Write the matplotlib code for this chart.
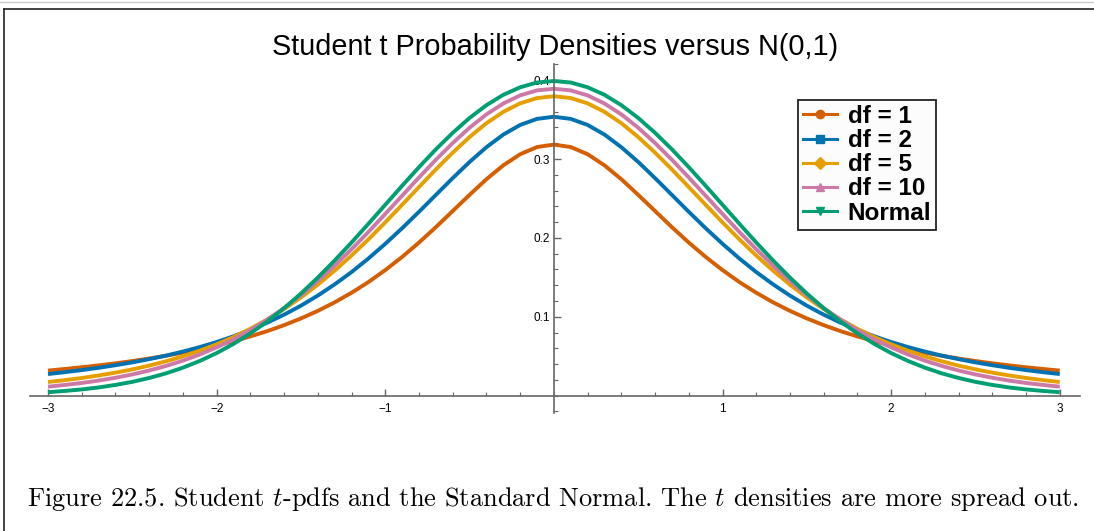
import numpy as np
import matplotlib
matplotlib.use("Agg")
import matplotlib.pyplot as plt
from matplotlib.ticker import MultipleLocator, FixedLocator
from matplotlib.lines import Line2D

# --- valeurs (moitie x >= 0, courbes symetriques) ---
x_half = [0.0, 0.1, 0.2, 0.3, 0.4, 0.5, 0.6, 0.7, 0.8, 0.9, 1.0,
          1.1, 1.2, 1.3, 1.4, 1.5, 1.6, 1.7, 1.8, 1.9, 2.0,
          2.1, 2.2, 2.3, 2.4, 2.5, 2.6, 2.7, 2.8, 2.9, 3.0]
df1 = [0.3183, 0.3152, 0.3061, 0.2920, 0.2744, 0.2546, 0.2341, 0.2136, 0.1941, 0.1759, 0.1592,
       0.1440, 0.1305, 0.1183, 0.1075, 0.0979, 0.0894, 0.0818, 0.0751, 0.0691, 0.0637,
       0.0588, 0.0545, 0.0506, 0.0471, 0.0439, 0.0410, 0.0384, 0.0360, 0.0338, 0.0318]
df2 = [0.3536, 0.3509, 0.3432, 0.3310, 0.3150, 0.2963, 0.2758, 0.2545, 0.2331, 0.2123, 0.1925,
       0.1739, 0.1567, 0.1411, 0.1269, 0.1141, 0.1027, 0.0925, 0.0834, 0.0753, 0.0680,
       0.0616, 0.0559, 0.0508, 0.0463, 0.0422, 0.0386, 0.0353, 0.0324, 0.0298, 0.0274]
df5 = [0.3796, 0.3773, 0.3706, 0.3598, 0.3454, 0.3279, 0.3081, 0.2868, 0.2645, 0.2420, 0.2197,
       0.1981, 0.1777, 0.1585, 0.1407, 0.1245, 0.1098, 0.0966, 0.0848, 0.0743, 0.0651,
       0.0570, 0.0498, 0.0436, 0.0381, 0.0333, 0.0292, 0.0256, 0.0224, 0.0197, 0.0173]
df10 = [0.3891, 0.3870, 0.3807, 0.3704, 0.3566, 0.3397, 0.3203, 0.2991, 0.2766, 0.2535, 0.2304,
        0.2076, 0.1857, 0.1649, 0.1454, 0.1274, 0.1111, 0.0963, 0.0831, 0.0714, 0.0612,
        0.0522, 0.0444, 0.0377, 0.0319, 0.0269, 0.0227, 0.0191, 0.0161, 0.0136, 0.0114]
normal = [0.3989, 0.3970, 0.3910, 0.3814, 0.3683, 0.3521, 0.3332, 0.3123, 0.2897, 0.2661, 0.2420,
          0.2179, 0.1942, 0.1714, 0.1497, 0.1295, 0.1109, 0.0940, 0.0790, 0.0656, 0.0540,
          0.0440, 0.0355, 0.0283, 0.0224, 0.0175, 0.0136, 0.0104, 0.0079, 0.0060, 0.0044]

labels = ["df = 1", "df = 2", "df = 5", "df = 10", "Normal"]
colors = ["#D55E00", "#0072B2", "#E69F00", "#CC79A7", "#009E73"]
markers = ["o", "s", "D", "^", "v"]

title = "Student t Probability Densities versus N(0,1)"
caption = ("Figure 22.5. Student $t$-pdfs and the Standard Normal. "
           "The $t$ densities are more spread out.")

plt.rcParams["font.family"] = ["Liberation Sans", "DejaVu Sans"]
plt.rcParams["mathtext.fontset"] = "cm"


def mirror(vals):
    # courbe complete a partir de la moitie droite
    return list(vals[:0:-1]) + list(vals)


x_full = [-v for v in x_half[:0:-1]] + list(x_half)

fig = plt.figure(figsize=(10.94, 5.31), dpi=100)
ax = fig.add_axes([0.0274, 0.2222, 0.9598, 0.6573])

for vals, lab, col in zip([df1, df2, df5, df10, normal], labels, colors):
    ax.plot(x_full, mirror(vals), color=col, lw=2.8, solid_capstyle="butt",
            solid_joinstyle="round")

ax.set_xlim(-3.107, 3.12)
ax.set_ylim(-0.022, 0.4205)

# axes croisees a l'origine (style Mathematica)
for side in ["top", "right"]:
    ax.spines[side].set_visible(False)
ax.spines["left"].set_position(("data", 0))
ax.spines["bottom"].set_position(("data", 0))
for side in ["left", "bottom"]:
    ax.spines[side].set_color("#666666")
    ax.spines[side].set_linewidth(1.2)

ax.xaxis.set_major_locator(FixedLocator([-3, -2, -1, 1, 2, 3]))
ax.xaxis.set_minor_locator(MultipleLocator(0.2))
ax.yaxis.set_major_locator(FixedLocator([0.1, 0.2, 0.3, 0.4]))
ax.yaxis.set_minor_locator(MultipleLocator(0.02))
ax.set_xticklabels(["\u22123", "\u22122", "\u22121", "1", "2", "3"])
ax.set_yticklabels(["0.1", "0.2", "0.3", "0.4"])
ax.tick_params(which="both", direction="in", color="#666666", labelsize=8.5, pad=5)
ax.tick_params(which="major", length=5, width=1)
ax.tick_params(which="minor", length=3, width=0.8)
ax.tick_params(axis="y", pad=3)

fig.text(0.507, 0.912, title, ha="center", va="center", fontsize=20.8)

handles = [Line2D([], [], color=c, lw=2.2, marker=m, markersize=6) for c, m in zip(colors, markers)]
leg = ax.legend(handles, labels, loc="upper left", bbox_to_anchor=(0.7294, 0.8117),
                bbox_transform=fig.transFigure, fancybox=False, framealpha=1,
                edgecolor="#222222", facecolor="#fcfcfc", borderpad=0.2,
                labelspacing=0.05, handlelength=1.4, handletextpad=0.45,
                borderaxespad=0, prop={"size": 17.5, "weight": "bold"})
leg.get_frame().set_linewidth(1.3)

fig.text(0.025, 0.06, caption, ha="left", va="center", fontsize=19,
         family="cmr10")

# cadre de la page scannee
fig.add_artist(Line2D([0.0037, 0.0037], [0, 0.983], color="#222222", lw=1.2,
                      transform=fig.transFigure))
fig.add_artist(Line2D([0.0037, 1.0], [0.983, 0.983], color="#222222", lw=1.2,
                      transform=fig.transFigure))
fig.add_artist(Line2D([0.0, 1.0], [0.997, 0.997], color="#cccccc", lw=1,
                      transform=fig.transFigure))

fig.savefig("out.png", dpi=100)
